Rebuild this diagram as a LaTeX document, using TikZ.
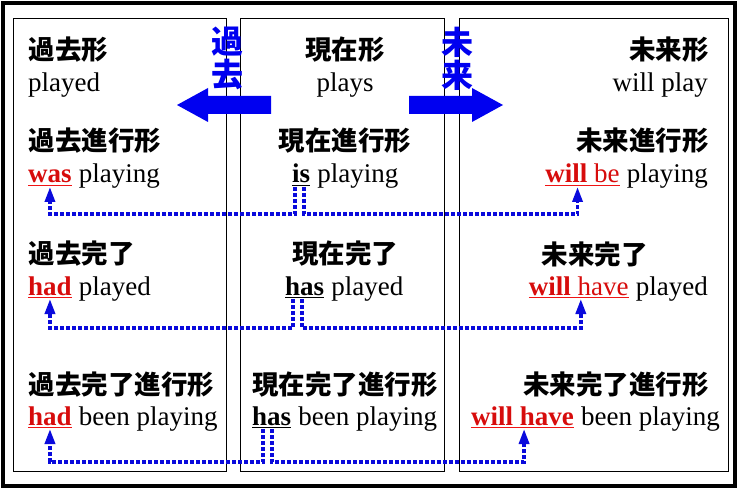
\documentclass[tikz,border=0pt]{standalone}
\usepackage{fontspec}
\setmainfont{Liberation Serif}
\newfontfamily\jpfont{Noto Sans CJK JP}
\usetikzlibrary{arrows.meta}
\definecolor{myblue}{RGB}{0,0,240}
\definecolor{connblue}{RGB}{10,10,220}
\definecolor{myred}{RGB}{215,12,12}
\definecolor{ulred}{RGB}{240,20,20}
\begin{document}
\begin{tikzpicture}[x=1pt,y=-1pt,
  jt/.style={font=\jpfont\bfseries\fontsize{26.5}{30}\selectfont, inner sep=0pt},
  vt/.style={font=\jpfont\bfseries\fontsize{32}{34}\selectfont, inner sep=0pt, text=myblue},
  et/.style={font=\fontsize{27}{30}\selectfont, inner sep=0pt, anchor=base west},
  redword/.style={text=myred},
  colbox/.style={draw=black, line width=0.9pt},
  uline/.style={line width=1.8pt},
  conn/.style={draw=connblue, line width=3.4pt, dash pattern=on 4pt off 2pt,
               -{Triangle[length=15pt,width=10pt]}},
  bigarrow/.style={fill=myblue}
]
\fill[white] (0,0) rectangle (739,489);
\useasboundingbox (0,0) rectangle (739,489);
% frames
\draw[line width=4pt] (3,3) rectangle (734.5,485.5);
\draw[colbox] (13,18) rectangle (226,471);
\draw[colbox] (240,18) rectangle (444,471);
\draw[colbox] (459,18) rectangle (728,471);

% ---- left column
\node[jt, anchor=west] (t00) at (28.5,50) {過去形};
\node[et] (e00) at (28,92) {played};
\node[jt, anchor=west] (t01) at (28.5,141) {過去進行形};
\node[et, redword] (was) at (28,183) {\textbf{was}};
\node[et] (e01) at (was.base east) {\ playing};
\node[jt, anchor=west] (t02) at (28.5,254) {過去完了};
\node[et, redword] (had1) at (28,295) {\textbf{had}};
\node[et] (e02) at (had1.base east) {\ played};
\node[jt, anchor=west] (t03) at (28.5,385) {過去完了進行形};
\node[et, redword] (had2) at (28,425) {\textbf{had}};
\node[et] (e03) at (had2.base east) {\ been playing};

% ---- middle column
\node[jt] (t10) at (345,50) {現在形};
\node[et, anchor=base] (e10) at (345,92) {plays};
\node[jt] (t11) at (345,141) {現在進行形};
\node[et] (is) at (292,183) {\textbf{is}};
\node[et] (e11) at (is.base east) {\ playing};
\node[jt] (t12) at (345,254) {現在完了};
\node[et] (has1) at (285,295) {\textbf{has}};
\node[et] (e12) at (has1.base east) {\ played};
\node[jt] (t13) at (345,385) {現在完了進行形};
\node[et] (has2) at (252,425) {\textbf{has}};
\node[et] (e13) at (has2.base east) {\ been playing};

% ---- right column
\node[jt, anchor=east] (t20) at (709,50) {未来形};
\node[et, anchor=base east] (e20) at (708,92) {will play};
\node[jt, anchor=east] (t21) at (709,141) {未来進行形};
\node[et, anchor=base east] (e21) at (708,183) {\ playing};
\node[et, anchor=base east, redword] (willbe) at (e21.base west) {\textbf{will} be};
\node[jt, anchor=east] (t22) at (648,254) {未来完了};
\node[et, anchor=base east] (e22) at (708,295) {\ played};
\node[et, anchor=base east, redword] (willhave1) at (e22.base west) {\textbf{will} have};
\node[jt, anchor=east] (t23) at (709,385) {未来完了進行形};
\node[et, anchor=base east] (e23) at (720,425) {\ been playing};
\node[et, anchor=base east, redword] (willhave2) at (e23.base west) {\textbf{will have}};

% underlines
\foreach \w in {was,had1,had2,willbe,willhave1,willhave2}
  \draw[uline, ulred] ([yshift=-2.5pt]\w.base west) -- ([yshift=-2.5pt]\w.base east);
\foreach \w in {is,has1,has2}
  \draw[uline, black, line width=1.5pt] ([yshift=-2.5pt]\w.base west) -- ([yshift=-2.5pt]\w.base east);

% connectors
\draw[conn] ([xshift=3pt,yshift=-4pt]is.base west) |- ([yshift=-31pt]was.base) -- ([yshift=-4pt]was.base);
\draw[conn] ([xshift=12pt,yshift=-4pt]is.base west) |- ([xshift=-5pt,yshift=-31pt]willbe.base) -- ([xshift=-5pt,yshift=-4pt]willbe.base);
\draw[conn] ([xshift=8pt,yshift=-4pt]has1.base west) |- ([yshift=-33pt]had1.base) -- ([yshift=-4pt]had1.base);
\draw[conn] ([xshift=17pt,yshift=-4pt]has1.base west) |- ([xshift=2pt,yshift=-33pt]willhave1.base) -- ([xshift=2pt,yshift=-4pt]willhave1.base);
\draw[conn] ([xshift=11pt,yshift=-4pt]has2.base west) |- ([yshift=-37pt]had2.base) -- ([yshift=-4pt]had2.base);
\draw[conn] ([xshift=20pt,yshift=-4pt]has2.base west) |- ([xshift=1.5pt,yshift=-37pt]willhave2.base) -- ([xshift=1.5pt,yshift=-4pt]willhave2.base);

% big arrows
\fill[bigarrow] (271,96) -- (208,96) -- (208,88) -- (177,105) -- (208,122) -- (208,114) -- (271,114) -- cycle;
\fill[bigarrow] (409,96) -- (472,96) -- (472,88) -- (503,105) -- (472,122) -- (472,114) -- (409,114) -- cycle;

% vertical labels
\node[vt] (ka) at (227,42) {過};
\node[vt] (kb) at (227,75) {去};
\node[vt] (mi) at (457,42) {未};
\node[vt] (ra) at (457,75) {来};
\end{tikzpicture}
\end{document}
